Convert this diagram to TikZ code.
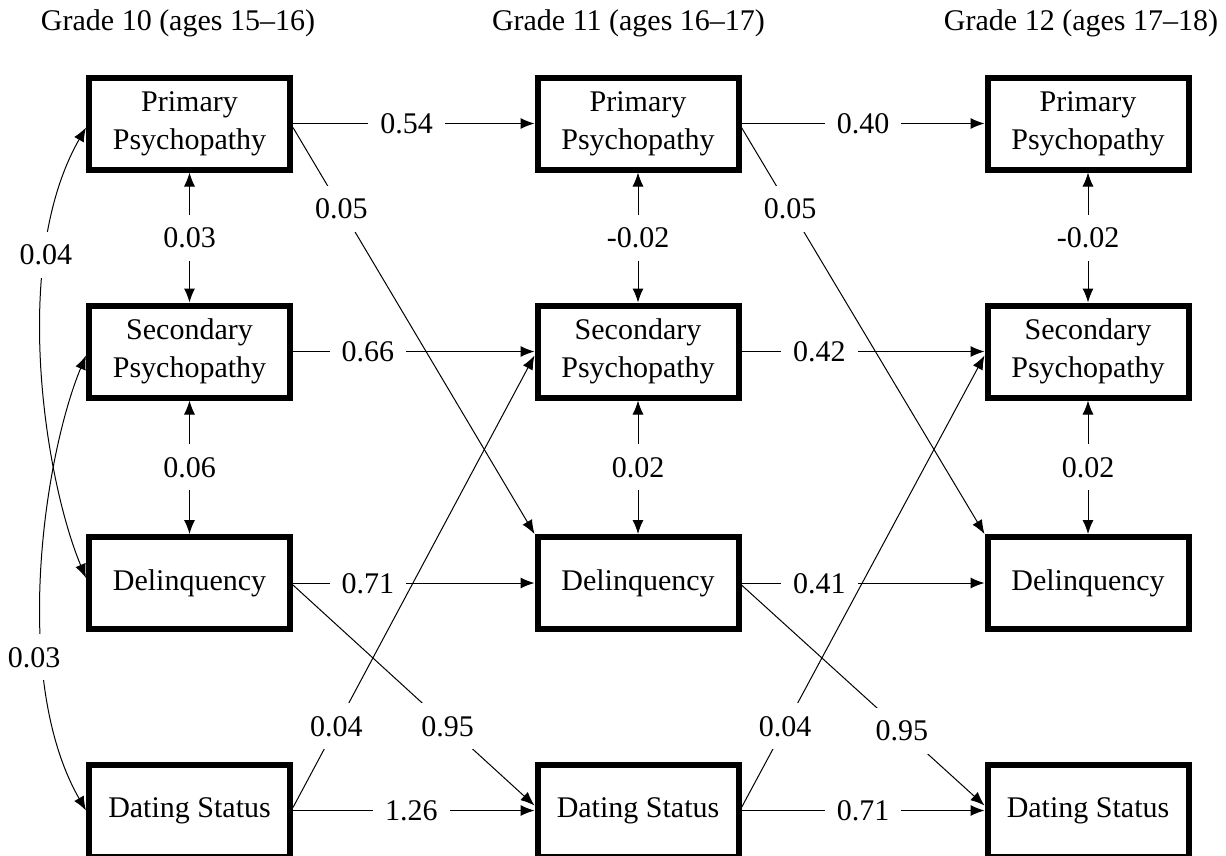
\documentclass[tikz,border=0pt]{standalone}
\usepackage{fontspec}
\setmainfont{Liberation Serif}
\newfontfamily\tnrfont{Liberation Serif}
\usetikzlibrary{arrows.meta}
\begin{document}
\begin{tikzpicture}[x=1pt,y=-1pt,
 var/.style={draw, line width=6pt, minimum width=201pt, minimum height=92pt, inner sep=0pt, align=center, font=\tnrfont\fontsize{30}{38}\selectfont},
 lab/.style={fill=white, inner xsep=12pt, inner ysep=13pt, text height=20pt, text depth=0pt, font=\tnrfont\fontsize{30}{36}\selectfont},
 hdr/.style={anchor=base, inner sep=0pt, font=\tnrfont\fontsize{30}{36}\selectfont},
 arr/.style={line width=1pt, -{Latex[length=14pt,width=11pt]}},
 darr/.style={line width=1pt, {Latex[length=14pt,width=11pt]}-{Latex[length=14pt,width=11pt]}},
]
\useasboundingbox (0,0) rectangle (1226,855);

% headers
\node[hdr] (h1) at (178,30) {Grade 10 (ages 15–16)};
\node[hdr] (h2) at (628.5,30) {Grade 11 (ages 16–17)};
\node[hdr] (h3) at (1081,30) {Grade 12 (ages 17–18)};

% column 1
\node[var] (P1) at (189.5,123.5) {Primary\\Psychopathy};
\node[var] (S1) at (189.5,351.5) {Secondary\\Psychopathy};
\node[var] (D1) at (189.5,583) {Delinquency};
\node[var] (T1) at (189.5,810.5) {Dating Status};
% column 2
\node[var] (P2) at (638,123.5) {Primary\\Psychopathy};
\node[var] (S2) at (638,351.5) {Secondary\\Psychopathy};
\node[var] (D2) at (638,583) {Delinquency};
\node[var] (T2) at (638,810.5) {Dating Status};
% column 3
\node[var] (P3) at (1088,123.5) {Primary\\Psychopathy};
\node[var] (S3) at (1088,351.5) {Secondary\\Psychopathy};
\node[var] (D3) at (1088,583) {Delinquency};
\node[var] (T3) at (1088,810.5) {Dating Status};

% horizontal paths
\draw[arr] (P1.east) -- node[lab,pos=.47]{0.54} (P2.west);
\draw[arr] (S1.east) -- node[lab,pos=.31]{0.66} (S2.west);
\draw[arr] (D1.east) -- node[lab,pos=.31]{0.71} (D2.west);
\draw[arr] (T1.east) -- node[lab,pos=.49]{1.26} (T2.west);
\draw[arr] (P2.east) -- node[lab,pos=.5]{0.40} (P3.west);
\draw[arr] (S2.east) -- node[lab,pos=.32]{0.42} (S3.west);
\draw[arr] (D2.east) -- node[lab,pos=.32]{0.41} (D3.west);
\draw[arr] (T2.east) -- node[lab,pos=.5]{0.71} (T3.west);

% vertical correlations
\draw[darr] (P1.south) -- node[lab]{0.03} (S1.north);
\draw[darr] (S1.south) -- node[lab]{0.06} (D1.north);
\draw[darr] (P2.south) -- node[lab]{-0.02} (S2.north);
\draw[darr] (S2.south) -- node[lab]{0.02} (D2.north);
\draw[darr] (P3.south) -- node[lab]{-0.02} (S3.north);
\draw[darr] (S3.south) -- node[lab]{0.02} (D3.north);

% cross-lagged paths
\draw[arr] ([yshift=-4pt]P1.east) -- node[lab,pos=.2]{0.05} (D2.north west);
\draw[arr] ([yshift=-2pt]D1.east) -- node[lab,pos=.64]{0.95} ([yshift=5pt]T2.west);
\draw[arr] ([yshift=3pt]T1.east) -- node[lab,pos=.18]{0.04} ([yshift=-4pt]S2.west);
\draw[arr] ([yshift=-4pt]P2.east) -- node[lab,pos=.2]{0.05} (D3.north west);
\draw[arr] ([yshift=-2pt]D2.east) -- node[lab,pos=.66]{0.95} ([yshift=5pt]T3.west);
\draw[arr] ([yshift=3pt]T2.east) -- node[lab,pos=.18]{0.04} ([yshift=-4pt]S3.west);

% left curved correlations
\draw[darr] ([yshift=-4pt]P1.west) .. controls +(-76,132.5) and +(-41,-98) .. ([yshift=5pt]D1.west) node[lab,pos=.28]{0.04};
\draw[darr] ([yshift=-4pt]S1.west) .. controls +(-41,98) and +(-76,-132.5) .. (T1.west) node[lab,pos=.67,xshift=-9pt]{0.03};
\end{tikzpicture}
\end{document}
